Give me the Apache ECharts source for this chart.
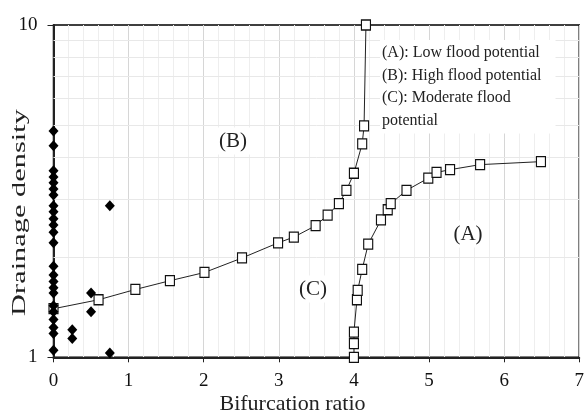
<!DOCTYPE html>
<html><head><meta charset="utf-8">
<script src="https://cdn.jsdelivr.net/npm/echarts@6/dist/echarts.min.js"></script>
<style>html,body{margin:0;padding:0;background:#fff}#c{width:587px;height:416px}</style>
</head><body><div id="c"></div>
<script>
// tick labels
const xTicks = [0, 1, 2, 3, 4, 5, 6, 7];
const yTicks = [1, 10];
const minorDensity = [2, 3, 4, 5, 6, 7, 8, 9];
// curve separating (B) from (C)
const ratioB   = [0, 0.60, 1.09, 1.55, 2.01, 2.51, 2.99, 3.20, 3.49, 3.65, 3.80, 3.90, 4.00, 4.11, 4.135, 4.16];
const densityB = [1.40, 1.49, 1.60, 1.70, 1.80, 1.99, 2.21, 2.30, 2.49, 2.68, 2.90, 3.18, 3.58, 4.39, 4.97, 10];
// curve separating (C) from (A)
const ratioA   = [4.00, 4.00, 4.00, 4.04, 4.05, 4.11, 4.19, 4.36, 4.45, 4.49, 4.70, 4.99, 5.10, 5.28, 5.68, 6.49];
const densityA = [1.00, 1.10, 1.19, 1.49, 1.59, 1.84, 2.19, 2.59, 2.78, 2.90, 3.18, 3.46, 3.60, 3.67, 3.80, 3.88];
// observed basins
const obsRatio   = [0,0,0,0,0,0,0,0,0,0,0,0,0,0,0,0,0,0,0,0,0,0,0,0, 0.25,0.25, 0.5,0.5, 0.75,0.75];
const obsDensity = [4.80,4.33,3.64,3.49,3.35,3.21,3.08,2.86,2.74,2.61,2.50,2.38,2.21,1.88,1.77,1.69,1.62,1.56,1.43,1.37,1.30,1.23,1.18,1.05, 1.21,1.14, 1.56,1.37, 2.86,1.03];
// texts
const xTitle = 'Bifurcation ratio';
const yTitle = 'Drainage density';
const legendText = '(A): Low flood potential\n(B): High flood potential\n(C): Moderate flood\npotential';
const regionLabels = ['(A)', '(B)', '(C)'];

const zip = (a, b) => a.map((v, i) => [v, b[i]]);
const serif = 'Liberation Serif';

const chart = echarts.init(document.getElementById('c'), null, {renderer: 'canvas'});
chart.setOption({
  animation: false,
  backgroundColor: '#fff',
  grid: {left: 53.5, right: 5, top: 25, bottom: 58.7, show: true, borderColor: '#000', borderWidth: 1.5, containLabel: false},
  xAxis: {
    type: 'value', min: xTicks[0], max: xTicks[xTicks.length - 1], interval: 1,
    axisLine: {lineStyle: {color: '#222', width: 2}},
    axisTick: {show: true, inside: false, length: 5, lineStyle: {color: '#222', width: 1}},
    axisLabel: {margin: 14, fontFamily: serif, fontSize: 19, color: '#111'},
    splitLine: {show: true, lineStyle: {color: '#d6d6d6', width: 1}},
    minorTick: {show: false, splitNumber: 5},
    minorSplitLine: {show: true, lineStyle: {color: '#eeeeee', width: 1}}
  },
  yAxis: {
    type: 'log', logBase: 10, min: yTicks[0], max: yTicks[1],
    axisLine: {show: true, lineStyle: {color: '#222', width: 2}},
    axisTick: {show: true, inside: false, length: 6, lineStyle: {color: '#222'}},
    axisLabel: {margin: 16, fontFamily: serif, fontSize: 19, color: '#111'},
    splitLine: {show: false}
  },
  graphic: [
    {type: 'text', z: 10, x: 20, y: 212.5, rotation: Math.PI / 2, scaleX: 1.6,
      style: {text: yTitle, font: '19px "Liberation Serif"', fill: '#222', align: 'center', verticalAlign: 'middle'}},
    {type: 'text', z: 10, x: 292.5, y: 404,
      style: {text: xTitle, font: '22px "Liberation Serif"', fill: '#222', align: 'center', verticalAlign: 'middle'}},
    {type: 'text', z: 10, x: 380, y: 40,
      style: {text: legendText, font: '16px "Liberation Serif"', lineHeight: 22.4, fill: '#222', align: 'left', verticalAlign: 'top',
        backgroundColor: '#fff', padding: [2, 14, 2, 2]}},
    {type: 'text', z: 10, x: 468, y: 234,
      style: {text: regionLabels[0], font: '21px "Liberation Serif"', fill: '#222', align: 'center', verticalAlign: 'middle', backgroundColor: '#fff', padding: [3, 4]}},
    {type: 'text', z: 10, x: 233, y: 141,
      style: {text: regionLabels[1], font: '21px "Liberation Serif"', fill: '#222', align: 'center', verticalAlign: 'middle', backgroundColor: '#fff', padding: [3, 4]}},
    {type: 'text', z: 10, x: 313, y: 289,
      style: {text: regionLabels[2], font: '21px "Liberation Serif"', fill: '#222', align: 'center', verticalAlign: 'middle', backgroundColor: '#fff', padding: [3, 4]}}
  ],
  series: [
    {
      type: 'line', data: [], z: 1, silent: true,
      markLine: {
        silent: true, symbol: ['none', 'none'], z: 1, animation: false,
        label: {show: false},
        lineStyle: {color: '#e8e8e8', width: 1, type: 'solid'},
        emphasis: {disabled: true},
        data: minorDensity.map(v => ({yAxis: v}))
      }
    },
    {
      type: 'line', data: zip(ratioB, densityB), z: 3,
      symbol: 'rect', symbolSize: [9, 10], showAllSymbol: true,
      lineStyle: {color: '#222', width: 1},
      itemStyle: {color: '#fff', borderColor: '#111', borderWidth: 1.2}
    },
    {
      type: 'line', data: zip(ratioA, densityA), z: 3,
      symbol: 'rect', symbolSize: [9, 10], showAllSymbol: true,
      lineStyle: {color: '#222', width: 1},
      itemStyle: {color: '#fff', borderColor: '#111', borderWidth: 1.2}
    },
    {
      type: 'scatter', data: zip(obsRatio, obsDensity), z: 4,
      symbol: 'diamond', symbolSize: [10, 11],
      itemStyle: {color: '#000', opacity: 1}
    }
  ]
});
</script>
</body></html>
